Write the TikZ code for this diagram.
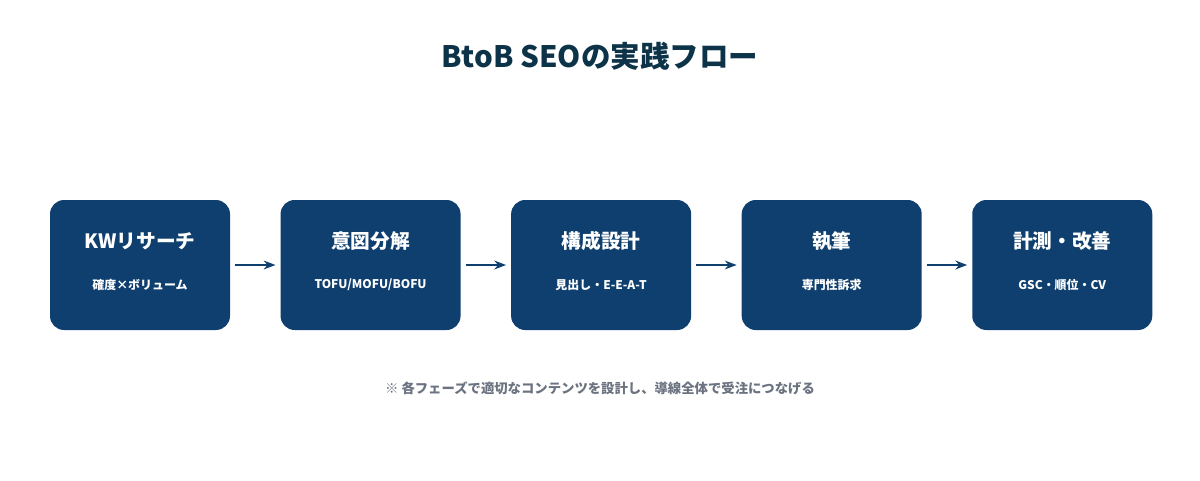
\documentclass[tikz,border=0pt]{standalone}
\usepackage{fontspec}
\setmainfont{Noto Sans CJK JP}
\usetikzlibrary{positioning,arrows.meta}
\definecolor{boxblue}{HTML}{0E3F6E}
\definecolor{titleblue}{HTML}{0D3349}
\definecolor{notegray}{HTML}{6B7280}
\tikzset{>=Stealth,
  phase/.style={fill=boxblue,rounded corners=10pt,minimum width=4.5cm,minimum height=3.25cm,inner sep=0pt},
  head/.style={text=white,font=\bfseries\fontsize{14}{16}\selectfont},
  sub/.style={text=white,font=\bfseries\fontsize{8.5}{10}\selectfont},
  flow/.style={->,very thick,boxblue}}

\begin{document}
\begin{tikzpicture}
\useasboundingbox (0,0) rectangle (30,12);
\node[text=titleblue,font=\bfseries\fontsize{21}{24}\selectfont] (title) at (15,10.6) {BtoB SEOの実践フロー};

\node[phase] (s1) at (3.5,5.375) {};
\node[phase,right=1.25cm of s1] (s2) {};
\node[phase,right=1.25cm of s2] (s3) {};
\node[phase,right=1.25cm of s3] (s4) {};
\node[phase,right=1.25cm of s4] (s5) {};

\foreach \phaseid/\name/\detail in {s1/KWリサーチ/確度×ボリューム,s2/意図分解/{TOFU/MOFU/BOFU},s3/構成設計/見出し・E-E-A-T,s4/執筆/専門性訴求,s5/計測・改善/GSC・順位・CV}{
  \node[head] (\phaseid h) at ([yshift=0.6cm]\phaseid.center) {\name};
  \node[sub] (\phaseid d) at ([yshift=-0.5cm]\phaseid.center) {\detail};
}

\foreach \a/\b in {s1/s2,s2/s3,s3/s4,s4/s5}
  \draw[flow] ([xshift=0.12cm]\a.east) -- ([xshift=-0.12cm]\b.west);

\node[text=notegray,font=\bfseries\fontsize{9.5}{11}\selectfont] (note) at (15,2.3)
  {※ 各フェーズで適切なコンテンツを設計し、導線全体で受注につなげる};
\end{tikzpicture}
\end{document}
